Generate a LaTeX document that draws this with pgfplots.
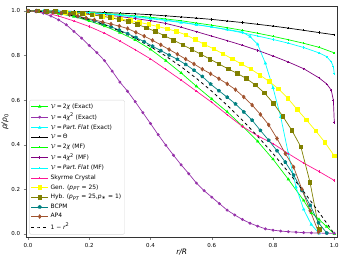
\documentclass[border=0pt]{standalone}
\usepackage{fontspec}
\setmainfont{DejaVu Sans}
\usepackage{pgfplots}
\pgfplotsset{compat=1.18}
\usetikzlibrary{plotmarks}
\definecolor{lime}{RGB}{0,255,0}
\definecolor{cyn}{RGB}{0,255,255}
\definecolor{purp}{RGB}{128,0,128}
\definecolor{expurp}{RGB}{150,50,170}
\definecolor{dpink}{RGB}{255,20,147}
\definecolor{yel}{RGB}{255,255,0}
\definecolor{oliv}{RGB}{128,128,0}
\definecolor{tealc}{RGB}{0,128,128}
\definecolor{sien}{RGB}{160,82,45}
\newcommand{\VV}{$\mathcal{V}$\,=\,}
\begin{document}
\begin{tikzpicture}
\begin{axis}[name=ax,
  scale only axis, width=311.3bp, height=230.6bp,
  xmin=-0.0065, xmax=1.0098, ymin=-0.015, ymax=1.019,
  xtick={0,0.2,0.4,0.6,0.8,1.0}, ytick={0,0.2,0.4,0.6,0.8,1.0},
  tick align=outside, xtick pos=bottom, ytick pos=left,
  major tick length=2.5pt,
  tick label style={font=\fontsize{5.5}{6}\selectfont},
  /pgf/number format/assume math mode=true,
  xticklabel style={/pgf/number format/.cd, fixed, fixed zerofill, precision=1},
  yticklabel style={/pgf/number format/.cd, fixed, fixed zerofill, precision=1},
  xlabel={\itshape r/R}, ylabel={{\itshape ρ/ρ}\textsubscript{0}},
  label style={font=\fontsize{7.5}{8}\selectfont},
  xlabel style={yshift=5pt}, ylabel style={yshift=-4pt},
  axis line style={black!80, line width=0.5pt},
  every axis plot/.append style={line width=0.7pt},
  legend cell align=left,
  legend style={font=\fontsize{6}{7}\selectfont, at={(0.01,0.012)}, anchor=south west,
    draw=black!15, rounded corners=1.5pt, inner sep=1.5pt, row sep=-0.3pt},
]
% V=2chi (Exact)
\addplot[color=lime, mark=triangle*, mark size=1.3pt] coordinates {
(0,1)(0.05,0.997)(0.1,0.988)(0.15,0.975)(0.2,0.955)(0.25,0.932)(0.3,0.903)(0.35,0.87)(0.4,0.828)(0.45,0.777)(0.5,0.722)(0.55,0.662)(0.6,0.605)(0.65,0.548)(0.7,0.484)(0.75,0.415)(0.8,0.335)(0.85,0.245)(0.9,0.15)(0.925,0.095)(0.95,0.065)(0.975,0.033)(1.0,0.0)};
\addlegendentry{\VV2{\itshape χ} (Exact)}
% V=4chi^2 (Exact)
\addplot[color=expurp, mark=*, mark size=1.1pt] coordinates {
(0,1)(0.025,0.997)(0.05,0.99)(0.075,0.977)(0.1,0.96)(0.125,0.938)(0.15,0.908)(0.175,0.878)(0.2,0.845)(0.225,0.813)(0.25,0.777)(0.275,0.73)(0.3,0.681)(0.325,0.64)(0.35,0.593)(0.375,0.544)(0.4,0.495)(0.425,0.445)(0.45,0.398)(0.475,0.353)(0.5,0.31)(0.525,0.27)(0.55,0.228)(0.575,0.194)(0.6,0.165)(0.625,0.136)(0.65,0.107)(0.675,0.085)(0.7,0.065)(0.725,0.048)(0.75,0.035)(0.775,0.023)(0.8,0.017)(0.825,0.013)(0.85,0.01)(0.875,0.008)(0.9,0.006)(0.925,0.005)(0.95,0.004)(0.975,0.003)(1.0,0.003)};
\addlegendentry{\VV4{\itshape χ}\textsuperscript{2} (Exact)}
% V=Part.Flat (Exact)
\addplot[color=cyn, mark=triangle*, mark size=1.3pt] coordinates {
(0,1)(0.05,0.9995)(0.1,0.998)(0.15,0.995)(0.2,0.991)(0.25,0.986)(0.3,0.98)(0.35,0.973)(0.4,0.965)(0.45,0.957)(0.5,0.948)(0.55,0.938)(0.6,0.928)(0.65,0.917)(0.7,0.905)(0.725,0.885)(0.75,0.85)(0.775,0.765)(0.8,0.655)(0.825,0.525)(0.85,0.36)(0.875,0.21)(0.9,0.11)(0.925,0.042)(0.95,0.003)};
\addlegendentry{\VV{\itshape Part.\,Flat} (Exact)}
% V=Theta
\addplot[color=black, mark=+, mark size=1.1pt] coordinates {
(0,1)(0.05,1.0)(0.1,0.999)(0.15,0.998)(0.2,0.996)(0.25,0.993)(0.3,0.99)(0.35,0.987)(0.4,0.983)(0.45,0.978)(0.5,0.973)(0.55,0.968)(0.6,0.962)(0.65,0.955)(0.7,0.948)(0.75,0.94)(0.8,0.932)(0.85,0.923)(0.9,0.913)(0.95,0.903)(1.0,0.893)};
\addlegendentry{\VV Θ}
% V=2chi (MF)
\addplot[color=lime, mark=+, mark size=1.1pt] coordinates {
(0,1)(0.05,1.0)(0.1,0.998)(0.15,0.996)(0.2,0.993)(0.25,0.989)(0.3,0.984)(0.35,0.978)(0.4,0.972)(0.45,0.964)(0.5,0.956)(0.55,0.946)(0.6,0.936)(0.65,0.925)(0.7,0.913)(0.75,0.9)(0.8,0.886)(0.85,0.871)(0.9,0.855)(0.95,0.837)(1.0,0.812)};
\addlegendentry{\VV2{\itshape χ} (MF)}
% V=4chi^2 (MF)
\addplot[color=purp, mark=+, mark size=1.1pt] coordinates {
(0,1)(0.05,0.999)(0.1,0.997)(0.15,0.994)(0.2,0.989)(0.25,0.983)(0.3,0.975)(0.35,0.966)(0.4,0.956)(0.45,0.944)(0.5,0.927)(0.55,0.907)(0.6,0.887)(0.65,0.867)(0.7,0.846)(0.75,0.823)(0.8,0.798)(0.85,0.771)(0.9,0.741)(0.95,0.7)(0.975,0.673)(0.99,0.645)(0.997,0.6)(1.0,0.5)};
\addlegendentry{\VV4{\itshape χ}\textsuperscript{2} (MF)}
% V=Part.Flat (MF)
\addplot[color=cyn, mark=+, mark size=1.1pt] coordinates {
(0,1)(0.05,0.9995)(0.1,0.998)(0.15,0.9955)(0.2,0.992)(0.25,0.9875)(0.3,0.982)(0.35,0.9755)(0.4,0.968)(0.45,0.9595)(0.5,0.95)(0.55,0.9395)(0.6,0.928)(0.65,0.9155)(0.7,0.902)(0.75,0.8875)(0.8,0.872)(0.85,0.8555)(0.9,0.836)(0.95,0.812)(0.975,0.795)(0.99,0.772)(0.997,0.75)(1.0,0.718)};
\addlegendentry{\VV{\itshape Part.\,Flat} (MF)}
% Skyrme crystal
\addplot[color=dpink, mark=+, mark size=1.1pt] coordinates {
(0,1)(0.05,0.994)(0.1,0.977)(0.15,0.955)(0.2,0.93)(0.25,0.9)(0.3,0.865)(0.35,0.826)(0.4,0.785)(0.45,0.738)(0.5,0.69)(0.55,0.64)(0.6,0.59)(0.65,0.535)(0.7,0.482)(0.75,0.44)(0.8,0.405)(0.85,0.36)(0.9,0.318)(0.95,0.28)(1.0,0.24)};
\addlegendentry{Skyrme Crystal}
% Gen.
\addplot[color=yel, mark=square*, mark size=1.8pt] coordinates {
(0,1)(0.0303,1.0)(0.0606,0.999)(0.0909,0.997)(0.1212,0.994)(0.1515,0.991)(0.1818,0.987)(0.2121,0.982)(0.2424,0.977)(0.2727,0.971)(0.303,0.964)(0.3333,0.957)(0.3636,0.949)(0.3939,0.94)(0.4242,0.93)(0.4545,0.92)(0.4848,0.908)(0.5152,0.893)(0.5455,0.872)(0.5758,0.85)(0.6061,0.83)(0.6364,0.808)(0.6667,0.785)(0.697,0.762)(0.7273,0.74)(0.7576,0.712)(0.7879,0.683)(0.8182,0.65)(0.8485,0.608)(0.8788,0.558)(0.9091,0.511)(0.9394,0.462)(0.9697,0.41)(1.0,0.35)};
\addlegendentry{Gen. ({\itshape p}\textsubscript{\itshape PT} = 25)}
% Hyb.
\addplot[color=oliv, mark=square*, mark size=1.8pt] coordinates {
(0,1)(0.0297,1.0)(0.0594,0.999)(0.0891,0.997)(0.1188,0.995)(0.1485,0.992)(0.1782,0.988)(0.2079,0.983)(0.2376,0.977)(0.2673,0.97)(0.297,0.962)(0.3267,0.952)(0.3564,0.94)(0.3861,0.925)(0.4158,0.908)(0.4455,0.889)(0.4752,0.869)(0.5049,0.848)(0.5346,0.827)(0.5643,0.806)(0.594,0.784)(0.6237,0.762)(0.6534,0.74)(0.6831,0.72)(0.7128,0.697)(0.7425,0.668)(0.7722,0.632)(0.8019,0.585)(0.8316,0.528)(0.8613,0.465)(0.891,0.39)(0.9207,0.232)(0.9504,0.02)};
\addlegendentry{Hyb. ({\itshape p}\textsubscript{\itshape PT} = 25,{\itshape p}\textsubscript{∗} = 1)}
% BCPM
\addplot[color=tealc, mark=pentagon*, mark size=1.6pt] coordinates {
(0,1)(0.0271,1.0)(0.0542,0.998)(0.0813,0.994)(0.1084,0.989)(0.1355,0.984)(0.1626,0.975)(0.1897,0.966)(0.2168,0.955)(0.2439,0.943)(0.271,0.929)(0.2981,0.914)(0.3252,0.898)(0.3523,0.881)(0.3794,0.862)(0.4065,0.842)(0.4336,0.822)(0.4607,0.802)(0.4878,0.783)(0.5149,0.76)(0.542,0.734)(0.5691,0.706)(0.5962,0.672)(0.6233,0.642)(0.6504,0.613)(0.6775,0.583)(0.7046,0.547)(0.7317,0.51)(0.7588,0.464)(0.7859,0.42)(0.813,0.373)(0.8401,0.322)(0.8672,0.264)(0.8943,0.195)(0.9214,0.128)(0.9485,0.05)(0.9756,0.004)};
\addlegendentry{BCPM}
% AP4
\addplot[color=sien, mark=diamond*, mark size=1.8pt] coordinates {
(0,1)(0.0271,1.0)(0.0542,0.998)(0.0813,0.994)(0.1084,0.99)(0.1355,0.984)(0.1626,0.977)(0.1897,0.968)(0.2168,0.96)(0.2439,0.95)(0.271,0.941)(0.2981,0.932)(0.3252,0.921)(0.3523,0.904)(0.3794,0.887)(0.4065,0.868)(0.4336,0.848)(0.4607,0.827)(0.4878,0.806)(0.5149,0.784)(0.542,0.762)(0.5691,0.739)(0.5962,0.718)(0.6233,0.696)(0.6504,0.673)(0.6775,0.647)(0.7046,0.614)(0.7317,0.578)(0.7588,0.536)(0.7859,0.489)(0.813,0.428)(0.8401,0.36)(0.8672,0.3)(0.8943,0.2)(0.9214,0.104)(0.9485,0.008)};
\addlegendentry{AP4}
% 1 - r^2
\addplot[color=black, dashed, line width=0.8pt] coordinates {
(0,1)(0.05,0.9975)(0.1,0.99)(0.15,0.9775)(0.2,0.96)(0.25,0.9375)(0.3,0.91)(0.35,0.8775)(0.4,0.84)(0.45,0.7975)(0.5,0.75)(0.55,0.6975)(0.6,0.64)(0.65,0.5775)(0.7,0.51)(0.75,0.4375)(0.8,0.36)(0.85,0.2775)(0.9,0.19)(0.95,0.0975)(1.0,0.0)};
\addlegendentry{1 − {\itshape r}\textsuperscript{2}}
\end{axis}
\pgfresetboundingbox
\useasboundingbox ([shift={(-26bp,-19.7bp)}]ax.south west) rectangle ([shift={(5.7bp,6.7bp)}]ax.north east);
\end{tikzpicture}
\end{document}
